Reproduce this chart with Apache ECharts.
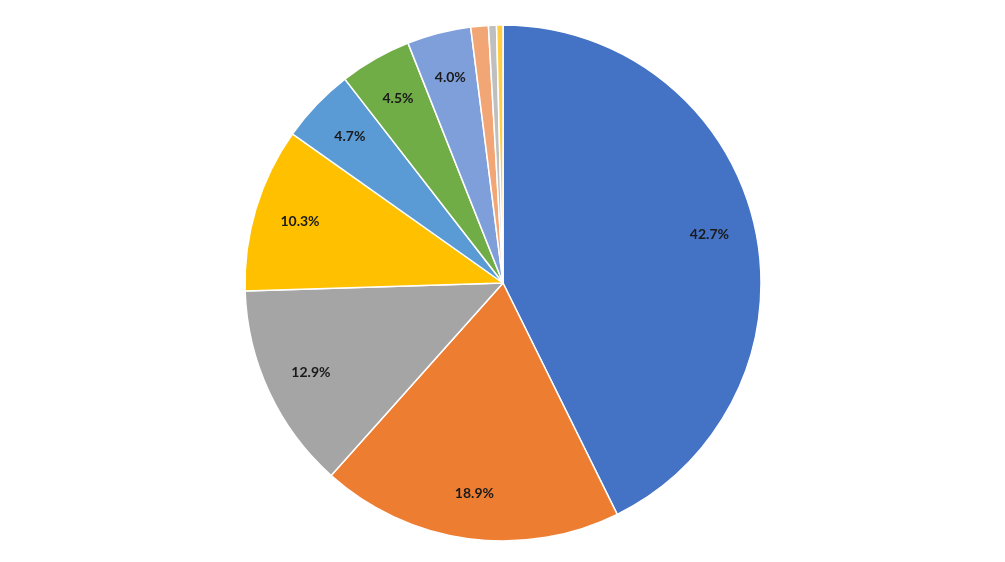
<!DOCTYPE html>
<html>
<head>
<meta charset="utf-8">
<script src="https://cdn.jsdelivr.net/npm/echarts@6/dist/echarts.min.js"></script>
<style>html,body{margin:0;padding:0;background:#fff;}#c{width:1005px;height:562px;}</style>
</head>
<body>
<div id="c"></div>
<script>
var categories = ['A', 'B', 'C', 'D', 'E', 'F', 'G', 'H', 'I', 'J'];
var values = [42.7, 18.9, 12.9, 10.3, 4.7, 4.5, 4.0, 1.1, 0.5, 0.4];
var colors = ['#4472C4', '#ED7D31', '#A5A5A5', '#FFC000', '#5B9BD5', '#70AD47', '#7F9FDA', '#F3A675', '#BFBFBF', '#FFCC44'];
var labelMin = 2;

var chart = echarts.init(document.getElementById('c'));
var mainData = categories.map(function (c, i) {
  return { name: c, value: values[i], itemStyle: { color: colors[i] } };
});
var labelData = categories.map(function (c, i) {
  return { name: c, value: values[i], label: { show: values[i] >= labelMin } };
});
chart.setOption({
  animation: false,
  series: [
    {
      type: 'pie',
      center: [503, 283],
      radius: [0, 258],
      startAngle: 90,
      clockwise: true,
      silent: true,
      label: { show: false },
      labelLine: { show: false },
      itemStyle: { borderColor: '#ffffff', borderWidth: 1.5 },
      data: mainData
    },
    {
      type: 'pie',
      center: [503, 283],
      radius: [160, 258],
      startAngle: 90,
      clockwise: true,
      silent: true,
      itemStyle: { color: 'rgba(0,0,0,0)' },
      label: {
        position: 'inside',
        formatter: function (p) { return p.value.toFixed(1) + '%'; },
        color: '#1a1a1a',
        fontFamily: 'Lato',
        fontWeight: 'bold',
        fontSize: 14
      },
      labelLine: { show: false },
      data: labelData
    }
  ]
});
</script>
</body>
</html>
